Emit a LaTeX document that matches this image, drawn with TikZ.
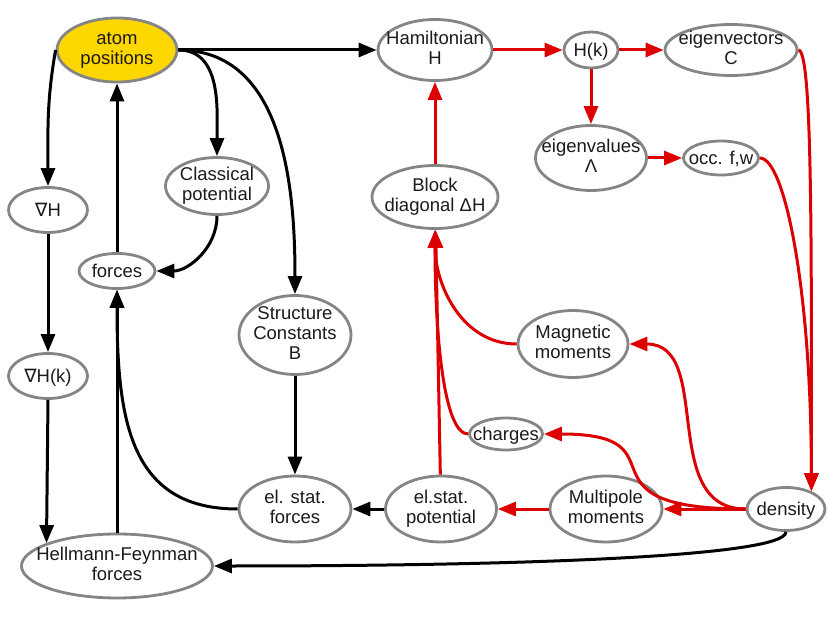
\documentclass[tikz,border=0pt]{standalone}
\usepackage{fontspec}
\setmainfont{Liberation Sans}
\newfontfamily\nablafont{DejaVu Sans}
\usepackage{xcolor}
\usepackage{tikz}
\usetikzlibrary{positioning,arrows.meta,shapes.geometric}

\definecolor{rimgray}{HTML}{858585}
\definecolor{flowred}{HTML}{DD0000}
\definecolor{atomgold}{HTML}{FFD700}
\definecolor{inkdark}{HTML}{1E1A1A}

\begin{document}
\begin{tikzpicture}[
    x=1pt, y=1pt,
    node distance=100pt and 100pt, on grid,
    bub/.style={ellipse, draw=rimgray, line width=2.8pt, fill=white, inner sep=-40pt,
        align=center, text=inkdark, font=\fontsize{18.5pt}{20pt}\selectfont,
        execute at begin node={\rule{0pt}{16.7pt}},
        execute at end node={\rule[-3.9pt]{0pt}{0pt}}},
    edge/.style={line width=3pt, -{Triangle[length=18pt, width=14pt]}},
    redge/.style={edge, draw=flowred}
]
    \useasboundingbox (0,0) rectangle (828,-620);

    \node[bub, fill=atomgold, minimum width=120pt, minimum height=64pt] (atom) at (117,-50) {atom\\positions};
    \node[bub, minimum width=114pt, minimum height=61pt, right=318pt of atom] (ham) {Hamiltonian\\H};
    \node[bub, minimum width=54pt, minimum height=36pt, right=156pt of ham] (hk) {H(k)};
    \node[bub, minimum width=132pt, minimum height=51pt, right=140pt of hk] (evec) {eigenvectors\\C};
    \node[bub, minimum width=111pt, minimum height=65pt, below=108pt of hk] (eval) {eigenvalues\\Λ};
    \node[bub, minimum width=75pt, minimum height=34pt, right=130pt of eval] (occ) {occ. f,w};
    \node[bub, minimum width=126pt, minimum height=63pt, below=147pt of ham] (block) {Block\\diagonal ΔH};

    \node[bub, minimum width=79pt, minimum height=45pt, below left=160pt and 69pt of atom] (gradH) {{\nablafont ∇}H};
    \node[bub, minimum width=103pt, minimum height=57pt, below right=136pt and 100pt of atom] (classpot) {Classical\\potential};
    \node[bub, minimum width=76pt, minimum height=35pt, below=221pt of atom] (forces) {forces};
    \node[bub, minimum width=112pt, minimum height=79pt, below right=285pt and 178pt of atom] (struct) {Structure\\Constants\\B};
    \node[bub, minimum width=79pt, minimum height=45pt, below=166pt of gradH] (gradHk) {{\nablafont ∇}H(k)};
    \node[bub, minimum width=191pt, minimum height=64pt, below=295pt of forces] (hf) {Hellmann-Feynman\\forces};

    \node[bub, minimum width=112pt, minimum height=66pt, below=174pt of struct] (esforces) {el. stat.\\forces};
    \node[bub, minimum width=111pt, minimum height=66pt, right=146pt of esforces] (espot) {el.stat.\\potential};
    \node[bub, minimum width=112pt, minimum height=66pt, right=165pt of espot] (multi) {Multipole\\moments};
    \node[bub, minimum width=78pt, minimum height=43pt, right=180pt of multi] (density) {density};
    \node[bub, minimum width=110pt, minimum height=67pt, above right=165pt and 132pt of espot] (magn) {Magnetic\\moments};
    \node[bub, minimum width=73pt, minimum height=32pt, above right=75pt and 65pt of espot] (charges) {charges};

    \draw[edge] (atom.east) -- (ham.west);
    \draw[edge] (atom.east) to[out=0, in=90] (classpot.north);
    \draw[edge] (atom.east) to[out=0, in=90] (struct.north);
    \draw[edge] (atom.west) to[out=-100, in=90] (gradH.north);
    \draw[edge] (forces) -- (atom);
    \draw[edge] (classpot.south) to[out=-90, in=0] (forces.east);
    \draw[edge] (struct) -- (esforces);
    \draw[edge] (espot) -- (esforces);
    \draw[edge] (esforces.west) .. controls +(-108pt,0) and +(0,-130pt) .. (forces.south);
    \draw[edge] (hf) -- (forces);
    \draw[edge] (gradH) -- (gradHk);
    \draw[edge] (gradHk.south) -- (hf.162);
    \draw[edge] (density.south) .. controls +(0,-25pt) and +(300pt,0) .. (hf.east);

    \draw[redge] (ham) -- (hk);
    \draw[redge] (hk) -- (evec);
    \draw[redge] (hk) -- (eval);
    \draw[redge] (eval) -- (occ);
    \draw[redge] (evec.east) .. controls +(14pt,0) and +(0,250pt) .. (density.35);
    \draw[redge] (occ.east) .. controls +(25pt,0) and +(0,200pt) .. (density.35);
    \draw[redge] (density) -- (multi);
    \draw[redge] (density.west) .. controls +(-178pt,0) and +(145pt,0) .. (charges.east);
    \draw[redge] (density.west) .. controls +(-88pt,0) and +(85pt,0) .. (magn.east);
    \draw[redge] (multi) -- (espot);
    \draw[redge] (espot) -- (block);
    \draw[redge] (charges.west) .. controls +(-25pt,0) and +(0,-100pt) .. (block.south);
    \draw[redge] (magn.west) to[out=180, in=-90] (block.south);
    \draw[redge] (block) -- (ham);
\end{tikzpicture}
\end{document}
